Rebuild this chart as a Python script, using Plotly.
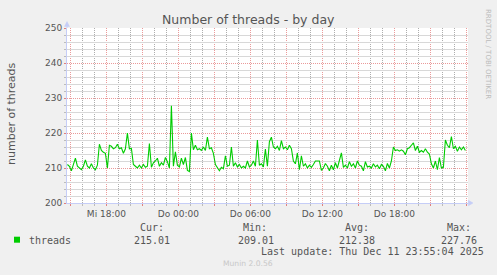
import pandas as pd
import plotly.graph_objects as go

# ---- data (10-minute samples) ----
threads = [
    211.0, 210.5, 209.2, 210.8, 212.8, 210.5, 210.0, 209.5, 210.5, 212.3,
    210.5, 210.0, 211.2, 210.0, 209.5, 210.8, 216.8, 215.0, 214.5, 214.2,
    210.0, 216.5, 216.2, 215.5, 215.8, 216.8, 215.5, 215.8, 214.2, 215.5,
    220.0, 215.5, 215.6, 211.0, 210.5, 210.0, 210.8, 210.0, 211.0, 210.2,
    210.5, 217.0, 210.2, 211.5, 212.0, 212.8, 210.5, 211.5, 210.8, 213.0,
    211.8, 210.0, 227.8, 210.5, 214.6, 210.8, 210.3, 212.8, 211.0, 213.0,
    209.3, 209.0, 220.0, 215.2, 216.5, 215.2, 215.5, 215.0, 216.0, 215.0,
    218.8, 215.5, 215.8, 214.2, 211.0, 210.0, 209.2, 210.2, 209.8, 213.5,
    210.5, 210.8, 216.0, 210.5, 211.5, 210.3, 211.0, 210.0, 210.5, 210.0,
    212.0, 210.3, 210.8, 212.0, 210.5, 218.0, 210.8, 211.2, 210.3, 215.4,
    210.5, 217.5, 218.8, 216.0, 215.5, 216.2, 215.0, 217.8, 215.5, 216.0,
    215.2, 216.5, 215.5, 212.0, 211.2, 214.3, 209.5, 213.5, 210.5, 211.2,
    210.0, 210.8, 210.2, 211.0, 212.0, 212.0, 212.0, 209.3, 210.0, 211.3,
    210.5, 209.2, 210.8, 209.5, 211.5, 210.0, 212.0, 214.3, 210.2, 210.8,
    210.0, 211.8, 210.5, 211.2, 210.0, 212.0, 210.8, 210.5, 209.2, 211.8,
    210.3, 210.5, 210.0, 211.2, 210.3, 210.8, 209.8, 211.0, 210.5, 209.2,
    211.3, 210.0, 212.0, 216.0, 215.0, 215.2, 214.8, 215.2, 214.8, 213.8,
    215.5, 215.8, 216.5, 217.2, 215.0, 216.2, 214.5, 215.0, 214.5, 215.5,
    214.5, 214.0, 211.2, 210.0, 212.0, 209.5, 213.0, 210.0, 210.2, 218.0,
    216.5, 215.8, 219.0, 215.5, 216.2, 214.8, 216.0, 215.2, 216.0, 215.0,
]
start_time = "2025-12-10 14:45"
sample_freq = "10min"
x_range = ["2025-12-10 14:43", "2025-12-12 00:08"]

tick_times = pd.date_range("2025-12-10 15:00", "2025-12-12 00:00", freq="3h")
tick_labels = ["", "Mi 18:00", "", "Do 00:00", "", "Do 06:00", "",
               "Do 12:00", "", "Do 18:00", "", ""]
hour_times = pd.date_range("2025-12-10 15:00", "2025-12-12 00:00", freq="1h")
y_ticks = [200, 210, 220, 230, 240, 250]
y_steps = list(range(200, 251, 2))
y_range = [200, 250]

series_name = "threads"
stat_names = ["Cur:", "Min:", "Avg:", "Max:"]
stat_values = ["215.01", "209.01", "212.38", "227.76"]
title_text = "Number of threads - by day"
y_title = "number of threads"
last_update = "Last update: Thu Dec 11 23:55:04 2025"
footer = "Munin 2.0.56"
side_text = "RRDTOOL / TOBI OETIKER"

times = pd.date_range(start_time, periods=len(threads), freq=sample_freq)
minor_times = [t for t in hour_times if t.hour % 3 != 0]
y_minor = [v for v in y_steps if v % 10 != 0]

# ---- layout geometry ----
W, H = 497, 275
L, R, T, B = 67, 468, 28, 203
GREEN = "#00CC00"
RED_GRID = "#eb9a9a"
GRAY_GRID = "#adadad"
GRAY_HGRID = "#d8d8d8"
AXIS = "#c5cdf7"
TXT = "#555555"
DASH = "1px,1px"


def px(xp, yp):
    return (xp - L) / (R - L), (B - yp) / (B - T)


fig = go.Figure()
fig.add_trace(go.Scatter(x=times, y=threads, mode="lines",
                         line=dict(color=GREEN, width=1.1),
                         hoverinfo="skip", showlegend=False))
# invisible trace so the overlay (minor grid) subplot exists
fig.add_trace(go.Scatter(x=[x_range[0]], y=[y_range[0] - 10],
                         xaxis="x2", yaxis="y2", mode="markers",
                         marker=dict(size=1, opacity=0),
                         showlegend=False, hoverinfo="skip"))

fig.update_layout(
    width=W, height=H,
    margin=dict(l=L, r=W - R, t=T, b=H - B, pad=0),
    paper_bgcolor="#F0F0F0", plot_bgcolor="#FFFFFF",
    font=dict(family="DejaVu Sans", size=9, color=TXT),
    showlegend=False,
    # major grid (red) and labels on the base axes
    xaxis=dict(type="date", range=x_range, tickmode="array",
               tickvals=tick_times, ticktext=tick_labels,
               showgrid=True, gridcolor=RED_GRID, griddash=DASH,
               gridwidth=1, ticks="outside", ticklen=2,
               tickcolor="#e08080", showline=True, linecolor=AXIS,
               zeroline=False,
               tickfont=dict(family="DejaVu Sans", size=9, color=TXT)),
    yaxis=dict(range=y_range, tickmode="array", tickvals=y_ticks,
               showgrid=True, gridcolor=RED_GRID, griddash=DASH,
               gridwidth=1, ticks="outside", ticklen=2,
               tickcolor="#e08080", showline=True, linecolor=AXIS,
               zeroline=False,
               tickfont=dict(family="DejaVu Sans", size=9, color=TXT)),
    # minor grid (gray) on overlay axes
    xaxis2=dict(type="date", range=x_range, overlaying="x", anchor="y2",
                side="bottom", tickmode="array", tickvals=minor_times,
                showticklabels=False, showgrid=True, gridcolor=GRAY_GRID,
                griddash=DASH, gridwidth=1, ticks="outside", ticklen=2,
                tickcolor="#bbbbbb", showline=False, zeroline=False),
    yaxis2=dict(range=y_range, overlaying="y", anchor="x2", side="left",
                tickmode="array", tickvals=y_minor, showticklabels=False,
                showgrid=True, gridcolor=GRAY_HGRID, griddash="solid",
                gridwidth=1, ticks="outside", ticklen=2,
                tickcolor="#bbbbbb", showline=False, zeroline=False),
)


# axis arrows (paper coordinates computed from pixel offsets)
def arrow_path(points):
    parts = []
    for i, (xp, yp) in enumerate(points):
        xx, yy = px(xp, yp)
        parts.append(("M" if i == 0 else "L") + f" {xx:.5f},{yy:.5f}")
    return " ".join(parts) + " Z"


fig.add_shape(type="path", xref="paper", yref="paper",
              path=arrow_path([(64.5, 26.5), (69.5, 26.5), (67, 21.5)]),
              fillcolor=AXIS, line=dict(color=AXIS, width=0.5), layer="above")
x0, y0 = px(67, 28)
x1, y1 = px(67, 26)
fig.add_shape(type="line", xref="paper", yref="paper", x0=x0, y0=y0,
              x1=x1, y1=y1, line=dict(color=AXIS, width=1), layer="above")
fig.add_shape(type="path", xref="paper", yref="paper",
              path=arrow_path([(468.3, 200.2), (468.3, 205.8), (473, 203)]),
              fillcolor=AXIS, line=dict(color=AXIS, width=0.5), layer="above")


def text(s, xp, yp, size, color=TXT, family="DejaVu Sans", angle=0,
         xanchor="center"):
    xx, yy = px(xp, yp)
    fig.add_annotation(text=s, x=xx, y=yy, xref="paper", yref="paper",
                       showarrow=False, xanchor=xanchor, yanchor="middle",
                       textangle=angle,
                       font=dict(family=family, size=size, color=color))


MONO = "DejaVu Sans Mono"
text(title_text, 248.5, 19, 12.5)
text(y_title, 11, 114, 11, angle=-90)
text(side_text, 488, 54, 7, color="#bbbbbb", angle=90)

# legend
xx0, yy0 = px(14, 242.7)
xx1, yy1 = px(20, 236.7)
fig.add_shape(type="rect", xref="paper", yref="paper", x0=xx0, y0=yy0,
              x1=xx1, y1=yy1, fillcolor=GREEN, line=dict(width=0))
text(series_name, 26.7, 240, 10, family=MONO, xanchor="left")
stat_label_x = [151.7, 254.7, 356.7, 458.7]
stat_value_x = [151.8, 255.8, 357.2, 458.8]
for name, val, lx, vx in zip(stat_names, stat_values, stat_label_x,
                             stat_value_x):
    text(name, lx, 227.3, 10, family=MONO)
    text(val, vx, 240, 10, family=MONO)
text(last_update, 372, 251.7, 10, family=MONO)
text(footer, 247.7, 263.3, 7.6, color="#c8c8c8")

fig.write_html("out.html")
